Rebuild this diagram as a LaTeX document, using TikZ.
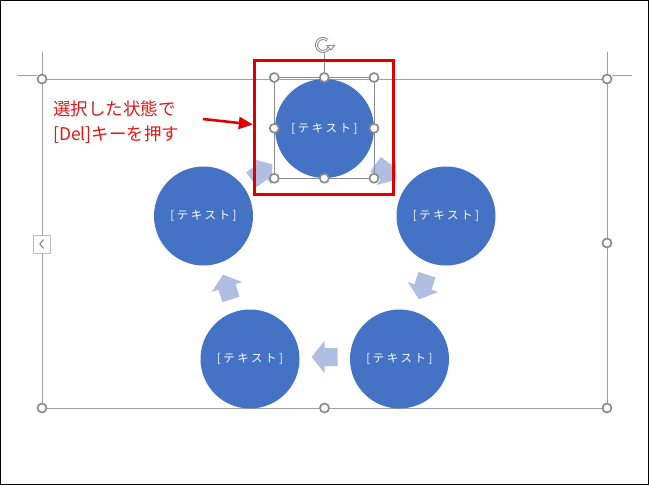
\documentclass[tikz,border=0pt]{standalone}
\usepackage{fontspec}
\newfontfamily\jpsans{Noto Sans CJK JP}
\newfontfamily\jpcirc[LetterSpace=22]{Noto Sans CJK JP}
\usetikzlibrary{arrows.meta}
\definecolor{circblue}{RGB}{68,114,196}
\definecolor{arrowblue}{RGB}{176,190,225}
\definecolor{selred}{RGB}{224,0,0}
\definecolor{txtred}{RGB}{228,24,24}
\definecolor{framegray}{RGB}{160,160,160}
\definecolor{handlegray}{RGB}{140,140,140}
\begin{document}
\begin{tikzpicture}[x=1pt,y=-1pt,
  circ/.style={circle, fill=circblue, minimum size=99pt, inner sep=0pt, text=white,
    font=\jpcirc\fontsize{11.5}{13}\selectfont},
  handle/.style={circle, draw=handlegray, fill=white, line width=1.7pt, minimum size=9pt, inner sep=0pt},
  frameline/.style={draw=framegray, line width=0.9pt},
  cyclearrow/.style={fill=arrowblue},
  notetext/.style={anchor=west, text=txtred, inner sep=0pt, font=\jpsans\fontsize{17.5}{20}\selectfont},
]
\useasboundingbox (0,0) rectangle (649,485);
\fill[white] (0,0) rectangle (649,485);
\draw[black, line width=1.2pt] (0.6,0.6) rectangle (648.4,484.4);

% guides and frame
\coordinate (fTL) at (42,79);
\coordinate (fTR) at (607,79);
\coordinate (fBL) at (42,408);
\coordinate (fBR) at (607,408);
\draw[frameline] (17,75) -- (37,75);
\draw[frameline] (612,75) -- (632,75);
\draw[frameline] (42,52) -- (fTL);
\draw[frameline] (607,52) -- (fTR);
\draw[frameline] (fTL) -- (fTR) -- (fBR) -- (fBL) -- (42,253);
\draw[frameline] (42,235) -- (fTL);
\node[draw=framegray!70, fill=white, line width=0.8pt, minimum width=17pt, minimum height=18pt, inner sep=0pt] (tab) at (41.5,244) {};
\draw[handlegray, line width=1.2pt] (43.5,239.5) -- (40,244) -- (43.5,248.5);

% cycle arrows
\foreach \p/\a in {{(324.5,357)}/180, {(423,287)}/-108, {(227,287)}/108, {(262,172)}/36, {(386,172)}/-36} {
  \fill[cyclearrow, shift={\p}, rotate=\a] (-13,-9) -- (0,-9) -- (0,-16) -- (13,0) -- (0,16) -- (0,9) -- (-13,9) -- cycle;
}

% circles
\node[circ] (c1) at (324.5,128.5) {[テキスト]};
\node[circ] (c2) at (446,216) {[テキスト]};
\node[circ] (c3) at (399.5,359) {[テキスト]};
\node[circ] (c4) at (250,359) {[テキスト]};
\node[circ] (c5) at (203.5,216) {[テキスト]};

% selection of top circle
\draw[draw=handlegray, line width=0.8pt] (274.3,77.5) rectangle (374,178.3);
\coordinate (rot) at (323,45);
\draw[draw=handlegray, line width=0.8pt] (324.3,53) -- (324.3,77.5);
\begin{scope}[shift={(rot)}, yscale=-1]
  \draw[handlegray, line width=3pt] (-15:6.5) arc[start angle=-15, end angle=-315, radius=6.5];
  \draw[white, line width=1pt] (-15:6.5) arc[start angle=-15, end angle=-315, radius=6.5];
  \filldraw[draw=handlegray, fill=white, line width=0.9pt] (4,-0.5) -- (11.5,-0.5) -- (8,-5) -- cycle;
\end{scope}

% frame handles
\node[handle] (h1) at (fTL) {};
\node[handle] (h2) at (fTR) {};
\node[handle] (h3) at (fBL) {};
\node[handle] (h4) at (fBR) {};
\node[handle] (h5) at (324.5,408) {};
\node[handle] (h6) at (607,243) {};
% selection handles
\node[handle] (s1) at (274.3,77.5) {};
\node[handle] (s2) at (324.3,77.5) {};
\node[handle] (s3) at (374,77.5) {};
\node[handle] (s4) at (274.3,128.3) {};
\node[handle] (s5) at (374,128.3) {};
\node[handle] (s6) at (274.3,178.3) {};
\node[handle] (s7) at (324.3,178.3) {};
\node[handle] (s8) at (374,178.3) {};

% red highlight
\node[draw=selred, line width=3pt, minimum width=139pt, minimum height=134.5pt, inner sep=0pt] (redbox) at (323.8,127.3) {};
\node[notetext] (note1) at (53,109) {選択した状態で};
\node[notetext] (note2) at (53,135) {[Del]キーを押す};
\coordinate (arrstart) at (203,119);
\draw[selred, line width=2.6pt, -{Triangle[length=14pt,width=12pt]}] (arrstart) -- (redbox.west |- 0,124.5);
\end{tikzpicture}
\end{document}
